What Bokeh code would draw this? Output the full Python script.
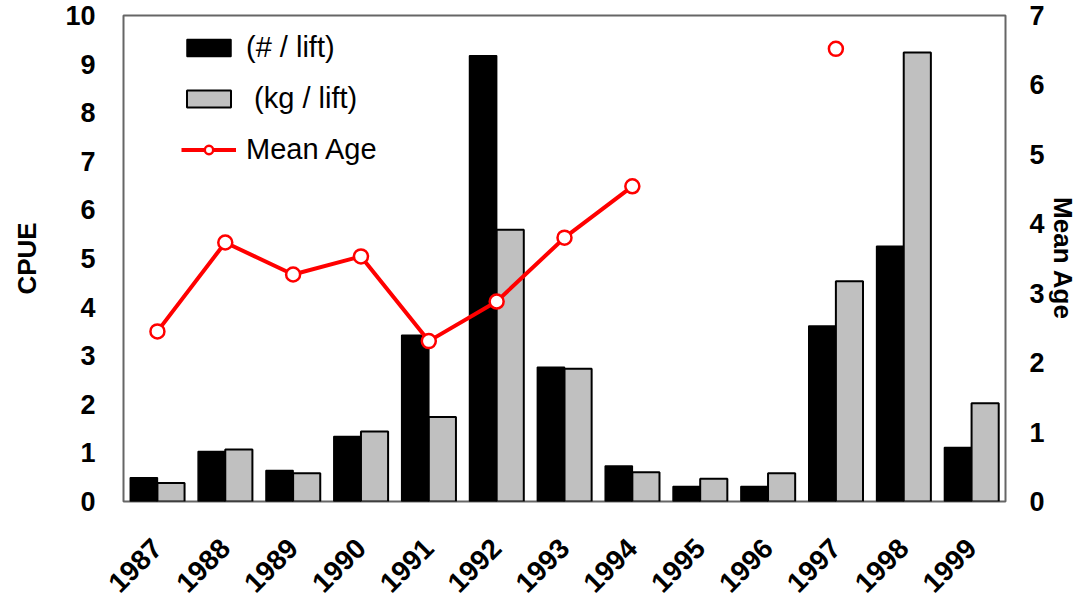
import math
from bokeh.plotting import figure
from bokeh.models import (ColumnDataSource, FactorRange, Range1d, LinearAxis,
                          FixedTicker, Legend, LegendItem)
from bokeh.transform import dodge
from bokeh.embed import file_html
from bokeh.resources import INLINE

years = ["1987", "1988", "1989", "1990", "1991", "1992", "1993",
         "1994", "1995", "1996", "1997", "1998", "1999"]
num_per_lift = [0.49, 1.03, 0.64, 1.34, 3.42, 9.17, 2.76, 0.73, 0.31, 0.31, 3.61, 5.25, 1.11]
kg_per_lift = [0.38, 1.07, 0.58, 1.44, 1.74, 5.59, 2.73, 0.60, 0.47, 0.58, 4.53, 9.24, 2.02]
mean_age = [2.45, 3.73, 3.27, 3.53, 2.31, 2.88, 3.80, 4.54,
            float("nan"), float("nan"), 6.52, float("nan"), float("nan")]
left_ticks = [0, 1, 2, 3, 4, 5, 6, 7, 8, 9, 10]
right_ticks = [0, 1, 2, 3, 4, 5, 6, 7]

src = ColumnDataSource(dict(year=years, n=num_per_lift, kg=kg_per_lift, age=mean_age))

FONT = "Liberation Sans"

p = figure(x_range=FactorRange(*years, range_padding=0), y_range=Range1d(0, 10),
           frame_width=882, frame_height=486,
           min_border_left=123, min_border_right=40, min_border_top=15, min_border_bottom=100,
           output_backend="svg", toolbar_location=None)
p.extra_y_ranges = {"age": Range1d(0, 7)}

p.xgrid.visible = False
p.ygrid.visible = False
p.outline_line_color = "#666666"
p.outline_line_width = 2

r_n = p.vbar(x=dodge("year", -0.2, range=p.x_range), top="n", width=0.4, source=src,
             fill_color="black", line_color="black", line_width=1.5)
r_kg = p.vbar(x=dodge("year", 0.2, range=p.x_range), top="kg", width=0.4, source=src,
              fill_color="#C0C0C0", line_color="black", line_width=2)
r_line = p.line(x="year", y="age", source=src, y_range_name="age",
                line_color="#FF0000", line_width=4)
r_pts = p.scatter(x="year", y="age", source=src, y_range_name="age", size=14,
                  fill_color="white", line_color="#FF0000", line_width=2.5)

# left axis
ya = p.yaxis[0]
ya.ticker = FixedTicker(ticks=left_ticks)
ya.axis_label = "CPUE"
ya.axis_label_text_font = FONT
ya.axis_label_text_font_style = "bold"
ya.axis_label_text_font_size = "26px"
ya.axis_label_text_color = "black"
ya.axis_label_standoff = 20
ya.major_label_text_font = FONT
ya.major_label_text_font_style = "bold"
ya.major_label_text_font_size = "27px"
ya.major_label_text_color = "black"
ya.major_label_standoff = 22
ya.axis_line_color = None
ya.major_tick_line_color = None
ya.minor_tick_line_color = None

# right axis
ra = LinearAxis(y_range_name="age", ticker=FixedTicker(ticks=right_ticks))
ra.axis_label = "Mean Age"
ra.axis_label_text_font = FONT
ra.axis_label_text_font_style = "bold"
ra.axis_label_text_font_size = "26px"
ra.axis_label_text_color = "black"
ra.axis_label_standoff = 0
ra.major_label_text_font = FONT
ra.major_label_text_font_style = "bold"
ra.major_label_text_font_size = "27px"
ra.major_label_text_color = "black"
ra.major_label_standoff = 18
ra.axis_line_color = None
ra.major_tick_line_color = None
ra.minor_tick_line_color = None
p.add_layout(ra, "right")

# x axis
xa = p.xaxis[0]
xa.major_label_orientation = math.pi / 4
xa.major_label_text_font = FONT
xa.major_label_text_font_style = "bold"
xa.major_label_text_font_size = "28px"
xa.major_label_text_color = "black"
xa.major_label_standoff = 36
xa.axis_line_color = None
xa.major_tick_line_color = None
xa.minor_tick_line_color = None

legend = Legend(items=[
    LegendItem(label="(# / lift)", renderers=[r_n]),
    LegendItem(label=" (kg / lift)", renderers=[r_kg]),
    LegendItem(label="Mean Age", renderers=[r_line, r_pts]),
], location=(58, 335))
legend.glyph_width = 55
legend.glyph_height = 21
legend.label_text_font = FONT
legend.label_text_font_size = "29px"
legend.label_text_color = "black"
legend.label_standoff = 10
legend.spacing = 18
legend.border_line_color = None
legend.background_fill_alpha = 0
legend.padding = 5
legend.margin = 0
p.add_layout(legend, "center")

open("out.html", "w").write(file_html(p, INLINE))
